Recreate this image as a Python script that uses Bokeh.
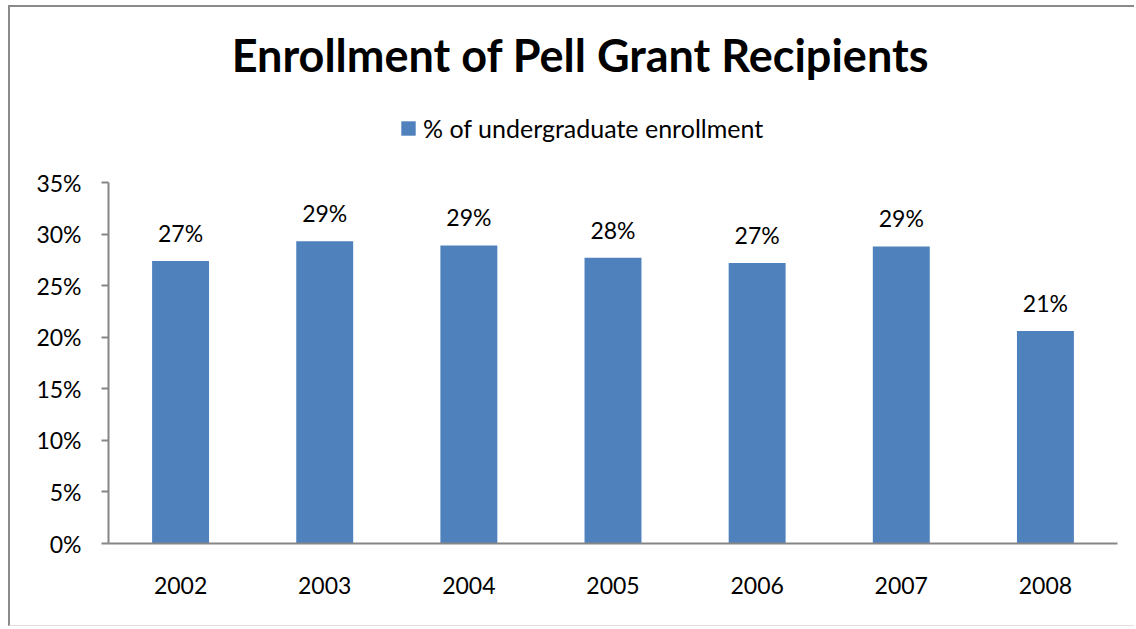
from bokeh.plotting import figure
from bokeh.models import (ColumnDataSource, Range1d, FixedTicker, NumeralTickFormatter,
                          LabelSet, Label, Legend, LegendItem)
from bokeh.core.properties import value
from bokeh.embed import file_html
from bokeh.resources import INLINE

years = ["2002", "2003", "2004", "2005", "2006", "2007", "2008"]
pct = [0.274, 0.293, 0.289, 0.277, 0.272, 0.288, 0.206]
pct_labels = ["27%", "29%", "29%", "28%", "27%", "29%", "21%"]
y_ticks = [0, 0.05, 0.10, 0.15, 0.20, 0.25, 0.30, 0.35]
title_text = "Enrollment of Pell Grant Recipients"
series_name = "% of undergraduate enrollment"

FONT = "Lato"
BAR = "#4F81BD"
AXIS = "#868686"

# layout (canvas pixels)
W, H = 1126, 621
FRAME_BOTTOM = 536          # canvas y of the 0% line
AXIS_TOP = 175              # canvas y of the 35% tick
Y_MAX = y_ticks[-1]
y_end = Y_MAX * FRAME_BOTTOM / (FRAME_BOTTOM - AXIS_TOP)

src = ColumnDataSource(dict(year=years, pct=pct, label=pct_labels))

p = figure(width=W, height=H, x_range=years, y_range=Range1d(0, y_end),
           output_backend="svg", toolbar_location=None, tools="",
           min_border_left=98, min_border_right=19, min_border_top=0,
           min_border_bottom=H - FRAME_BOTTOM)
p.styles = {"margin-left": "8px", "margin-top": "5px",
            "border-left": "2px solid #8a8a8a", "border-top": "2px solid #8a8a8a",
            "border-bottom": "1px solid #e0e0e0"}
p.outline_line_color = None
p.background_fill_color = "white"
p.border_fill_color = "white"
p.xgrid.grid_line_color = None
p.ygrid.grid_line_color = None

r = p.vbar(x="year", top="pct", width=0.395, source=src, fill_color=BAR, line_color=None)

# axes
p.yaxis.bounds = (0, Y_MAX)
p.yaxis.ticker = FixedTicker(ticks=y_ticks)
p.yaxis.formatter = NumeralTickFormatter(format="0%")
p.yaxis.axis_line_color = AXIS
p.yaxis.axis_line_width = 2
p.yaxis.major_tick_line_color = AXIS
p.yaxis.major_tick_line_width = 2
p.yaxis.major_tick_out = 7
p.yaxis.major_tick_in = 0
p.yaxis.minor_tick_line_color = None
p.yaxis.major_label_standoff = 20
p.yaxis.major_label_text_font = FONT
p.yaxis.major_label_text_font_size = "23px"
p.yaxis.major_label_text_color = "black"

p.xaxis.axis_line_color = AXIS
p.xaxis.axis_line_width = 2
p.xaxis.major_tick_line_color = None
p.xaxis.major_tick_out = 0
p.xaxis.major_label_standoff = 33
p.xaxis.major_label_text_font = FONT
p.xaxis.major_label_text_font_size = "23px"
p.xaxis.major_label_text_color = "black"

# data labels
labels = LabelSet(x="year", y="pct", text="label", source=src, y_offset=19,
                  text_align="center", text_baseline="alphabetic",
                  text_font=value(FONT), text_font_size=value("23px"),
                  text_color="black")
p.add_layout(labels)

# title
t = Label(x=568, y=45, x_units="canvas", y_units="canvas", text=title_text,
          text_align="center", text_baseline="alphabetic", text_font=FONT,
          text_font_style="bold", text_font_size="45px", text_color="black")
p.add_layout(t)

# legend
legend = Legend(items=[LegendItem(label=series_name, renderers=[r])],
                location=(291, 400), orientation="horizontal",
                padding=0, margin=0, spacing=0, border_line_color=None,
                background_fill_alpha=0, glyph_width=18, glyph_height=18,
                label_standoff=6, label_text_font=FONT, label_text_font_size="25px",
                label_text_color="black")
p.add_layout(legend, "center")

open("out.html", "w").write(file_html(p, INLINE))
